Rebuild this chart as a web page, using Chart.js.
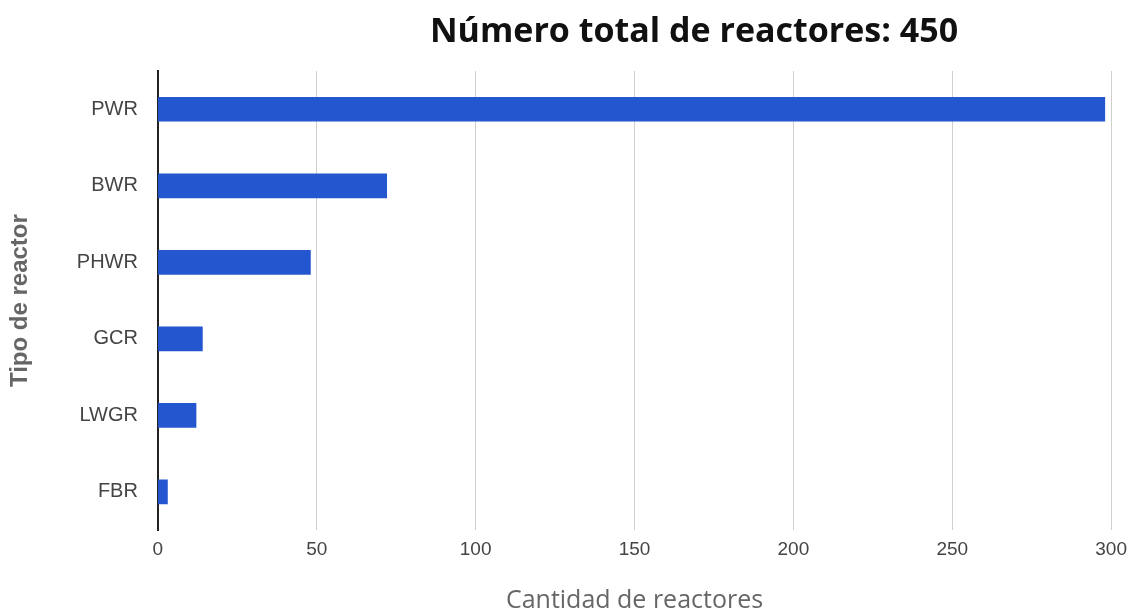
<!DOCTYPE html>
<html>
<head>
<meta charset="utf-8">
<script src="https://cdn.jsdelivr.net/npm/chart.js@4"></script>
<style>
  html, body { margin: 0; padding: 0; background: #fff; }
  #wrap { width: 1135px; height: 616px; }
</style>
</head>
<body>
<div id="wrap"><canvas id="reactorChart" width="1135" height="616"></canvas></div>
<script>
// Reactor types and counts
const reactorTypes = ["PWR", "BWR", "PHWR", "GCR", "LWGR", "FBR"];
const reactorCounts = [298, 72, 48, 14, 12, 3];
const xTicks = [0, 50, 100, 150, 200, 250, 300];
const chartTitle = "Número total de reactores: 450";

// Title is offset to the right of the canvas centre in the original
const titlePlugin = {
    id: "offsetTitle",
    afterDraw(chart) {
        const ctx = chart.ctx;
        ctx.save();
        ctx.font = "bold 34px 'Open Sans', sans-serif";
        ctx.fillStyle = "#111";
        ctx.textAlign = "center";
        ctx.textBaseline = "middle";
        ctx.fillText(chartTitle, 694, 32);
        ctx.restore();
    }
};

const ctx = document.getElementById("reactorChart").getContext("2d");
new Chart(ctx, {
    type: "bar",
    data: {
        labels: reactorTypes,
        datasets: [{
            data: reactorCounts,
            backgroundColor: "#2457cf",
            barThickness: 24
        }]
    },
    options: {
        indexAxis: "y",
        responsive: false,
        animation: false,
        layout: { padding: { top: 71, right: 23, bottom: 0, left: 6 } },
        plugins: {
            legend: { display: false },
            tooltip: { enabled: false }
        },
        scales: {
            x: {
                min: 0,
                max: 300,
                afterBuildTicks(axis) {
                    axis.ticks = xTicks.map(v => ({ value: v }));
                },
                grid: { color: "#cfcfcf", lineWidth: 1, drawTicks: false },
                border: { display: false },
                ticks: {
                    color: "#444",
                    padding: 8,
                    font: { family: "'Liberation Sans', Arial, sans-serif", size: 19 }
                },
                title: {
                    display: true,
                    text: "Cantidad de reactores",
                    color: "#666",
                    padding: { top: 17, bottom: 0 },
                    font: { family: "'Open Sans', sans-serif", size: 25 }
                }
            },
            y: {
                grid: { display: false, drawTicks: false },
                border: { color: "#222", width: 2 },
                ticks: {
                    color: "#444",
                    padding: 20,
                    font: { family: "'Liberation Sans', Arial, sans-serif", size: 20 }
                },
                title: {
                    display: true,
                    text: "Tipo de reactor",
                    color: "#666",
                    padding: { top: 0, bottom: 22 },
                    font: { family: "'Liberation Sans', Arial, sans-serif", size: 24, weight: "bold" }
                }
            }
        }
    },
    plugins: [titlePlugin]
});
</script>
</body>
</html>
